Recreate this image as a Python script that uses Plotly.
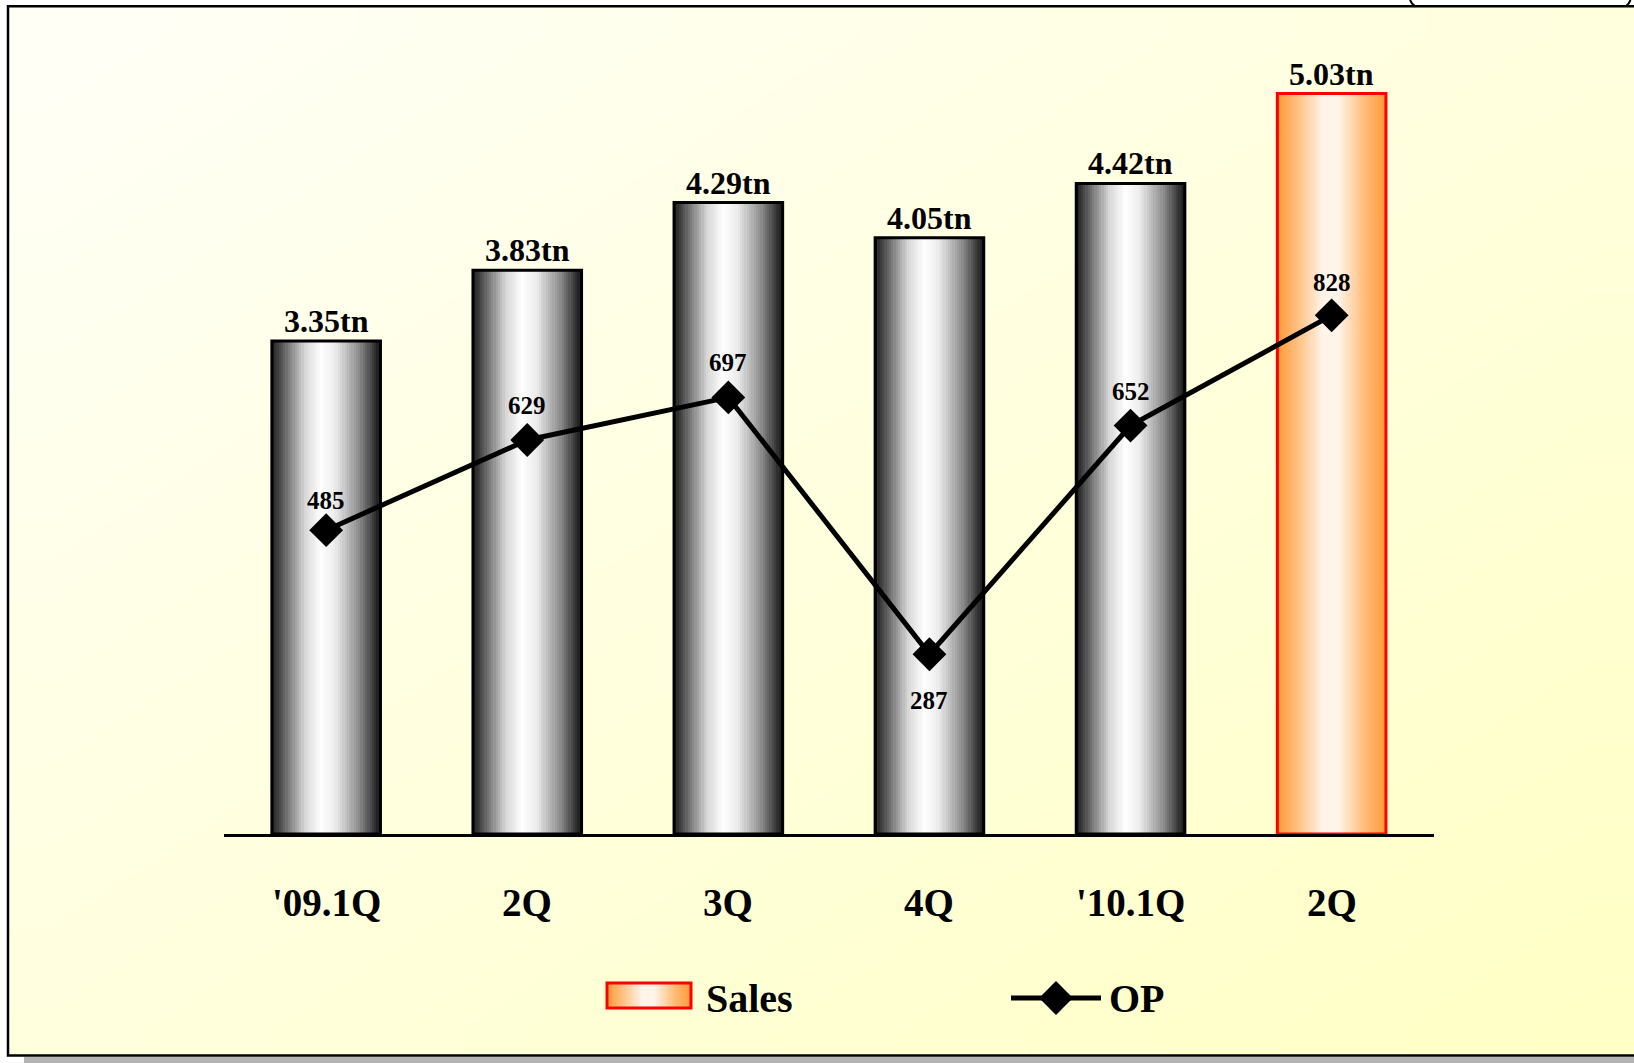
import numpy as np
import plotly.graph_objects as go

# ---- data -------------------------------------------------------------
categories = ["'09.1Q", "2Q", "3Q", "4Q", "'10.1Q", "2Q"]
sales_tn = [3.35, 3.83, 4.29, 4.05, 4.42, 5.03]
sales_labels = ["3.35tn", "3.83tn", "4.29tn", "4.05tn", "4.42tn", "5.03tn"]
op_values = [485, 629, 697, 287, 652, 828]
op_labels = ["485", "629", "697", "287", "652", "828"]

# ---- styling ----------------------------------------------------------
W, H = 1634, 1063
FONT = "Liberation Serif"
BAR_W = 0.54
HIGHLIGHT = len(categories) - 1          # latest quarter drawn in orange
OP_LABEL_SHIFT = [30, 35, 35, -46, 34, 33]  # px offset of OP value labels

GRAY_SCALE = [[0.0, "#1c1c1c"], [0.12, "#666666"], [0.3, "#d6d6d6"],
              [0.45, "#ffffff"], [0.58, "#ececec"], [0.8, "#8c8c8c"],
              [1.0, "#101010"]]
ORANGE_SCALE = [[0.0, "#ff9936"], [0.18, "#ffbf80"], [0.42, "#fff4ea"],
                [0.56, "#fff4ea"], [0.8, "#ffbc78"], [1.0, "#ff9936"]]

x_pos = np.arange(len(categories))

fig = go.Figure()

# background panel gradient, drawn in pixel-space axes (x / y)
bx = np.linspace(9, W, 21)
by = np.linspace(7, 1054, 21)
cx = (bx[:-1] + bx[1:]) / 2 / W
cy = (by[:-1] + by[1:]) / 2 / H
bg_z = (cx[None, :] + cy[:, None]) / 2
fig.add_trace(go.Heatmap(
    x=bx, y=by, z=bg_z, zmin=0, zmax=1, zsmooth="best",
    colorscale=[[0, "#fffff8"], [1, "#ffffc4"]], showscale=False,
    hoverinfo="skip", xaxis="x", yaxis="y"))

# horizontal cylinder shading for each bar
ncol = 48
frac = (np.arange(ncol) + 0.5) / ncol
for i, (xc, v) in enumerate(zip(x_pos, sales_tn)):
    edges = np.linspace(xc - BAR_W / 2, xc + BAR_W / 2, ncol + 1)
    fig.add_trace(go.Heatmap(
        x=edges, y=[0, v], z=[frac], zmin=0, zmax=1,
        colorscale=ORANGE_SCALE if i == HIGHLIGHT else GRAY_SCALE,
        showscale=False, hoverinfo="skip", xaxis="x2", yaxis="y2"))

# bar outlines
fig.add_trace(go.Bar(
    x=x_pos, y=sales_tn, width=BAR_W, name="Sales",
    marker=dict(color="rgba(0,0,0,0)",
                line=dict(color=["#ff0000" if i == HIGHLIGHT else "#000000"
                                 for i in range(len(categories))], width=3)),
    xaxis="x2", yaxis="y2"))

# operating profit line
fig.add_trace(go.Scatter(
    x=x_pos, y=op_values, mode="lines+markers", name="OP",
    line=dict(color="#000000", width=5),
    marker=dict(symbol="diamond", size=26, color="#000000"),
    xaxis="x2", yaxis="y3"))

# legend: OP sample line
fig.add_trace(go.Scatter(
    x=[1011, 1101], y=[998, 998], mode="lines",
    line=dict(color="#000000", width=5), hoverinfo="skip",
    xaxis="x", yaxis="y"))
fig.add_trace(go.Scatter(
    x=[1056], y=[998], mode="markers",
    marker=dict(symbol="diamond", size=26, color="#000000"),
    hoverinfo="skip", xaxis="x", yaxis="y"))

# legend: Sales swatch fill
sw_edges = np.linspace(607, 691, ncol + 1)
fig.add_trace(go.Heatmap(
    x=sw_edges, y=[983, 1008], z=[frac], zmin=0, zmax=1,
    colorscale=ORANGE_SCALE, showscale=False, hoverinfo="skip",
    xaxis="x", yaxis="y"))

annotations = []
for xc, lab in zip(x_pos, categories):
    annotations.append(dict(
        x=xc, y=902, xref="x2", yref="y", text=lab, showarrow=False,
        xanchor="center", yanchor="middle",
        font=dict(family=FONT, size=39, color="#000000", weight="bold")))
for xc, v, lab in zip(x_pos, sales_tn, sales_labels):
    annotations.append(dict(
        x=xc, y=v, xref="x2", yref="y2", text=lab, showarrow=False,
        xanchor="center", yanchor="middle", yshift=20,
        font=dict(family=FONT, size=32, color="#000000", weight="bold")))
for xc, v, lab, dy in zip(x_pos, op_values, op_labels, OP_LABEL_SHIFT):
    annotations.append(dict(
        x=xc, y=v, xref="x2", yref="y3", text=lab, showarrow=False,
        xanchor="center", yanchor="middle", yshift=dy,
        font=dict(family=FONT, size=25, color="#000000", weight="bold")))
annotations.append(dict(
    x=704, y=998, xref="x", yref="y", text="Sales", showarrow=False,
    xanchor="left", yanchor="middle",
    font=dict(family=FONT, size=40, color="#000000", weight="bold")))
annotations.append(dict(
    x=1107, y=998, xref="x", yref="y", text="OP", showarrow=False,
    xanchor="left", yanchor="middle",
    font=dict(family=FONT, size=40, color="#000000", weight="bold")))

shapes = [
    # drop shadow under the panel
    dict(type="rect", xref="x", yref="y", x0=24, y0=1057, x1=1700, y1=1064,
         fillcolor="#b4b4b4", line=dict(width=0), layer="above"),
    # panel frame
    dict(type="rect", xref="x", yref="y", x0=8, y0=6.3, x1=1700, y1=1055.5,
         line=dict(color="#000000", width=2.5), layer="above"),
    # legend swatch border
    dict(type="rect", xref="x", yref="y", x0=607, y0=983, x1=691, y1=1008,
         line=dict(color="#ff0000", width=3), layer="above"),
    # tails of the unit caption brackets at the top edge
    dict(type="path", xref="x", yref="y",
         path="M 1409.5,-3 Q 1410.5,4 1415.5,6.5",
         line=dict(color="#000000", width=2), layer="above"),
    dict(type="path", xref="x", yref="y",
         path="M 1631,-3 Q 1630,4 1625.5,6.5",
         line=dict(color="#000000", width=2), layer="above"),
]

Y_TOP_PX, Y_BASE_PX = 50, 834
PX_PER_TN = 147.2
sales_max = (Y_BASE_PX - Y_TOP_PX) / PX_PER_TN
OP_PER_TN = 235.0

fig.update_layout(
    width=W, height=H, autosize=False,
    margin=dict(l=0, r=0, t=0, b=0, pad=0),
    paper_bgcolor="#ffffff", plot_bgcolor="rgba(0,0,0,0)",
    showlegend=False, barmode="overlay",
    xaxis=dict(domain=[0, 1], range=[0, W], visible=False, fixedrange=True),
    yaxis=dict(domain=[0, 1], range=[H, 0], visible=False, fixedrange=True),
    xaxis2=dict(domain=[224 / W, 1434 / W], range=[-0.508, 5.509],
                anchor="y2", showline=True, linecolor="#000000", linewidth=3,
                showgrid=False, zeroline=False, showticklabels=False,
                ticks=""),
    yaxis2=dict(domain=[1 - Y_BASE_PX / H, 1 - Y_TOP_PX / H],
                range=[0, sales_max], anchor="x2", visible=False),
    yaxis3=dict(domain=[1 - Y_BASE_PX / H, 1 - Y_TOP_PX / H],
                range=[0, sales_max * OP_PER_TN], anchor="x2",
                overlaying="y2", visible=False),
    annotations=annotations,
    shapes=shapes,
)

fig.write_html("out.html")
